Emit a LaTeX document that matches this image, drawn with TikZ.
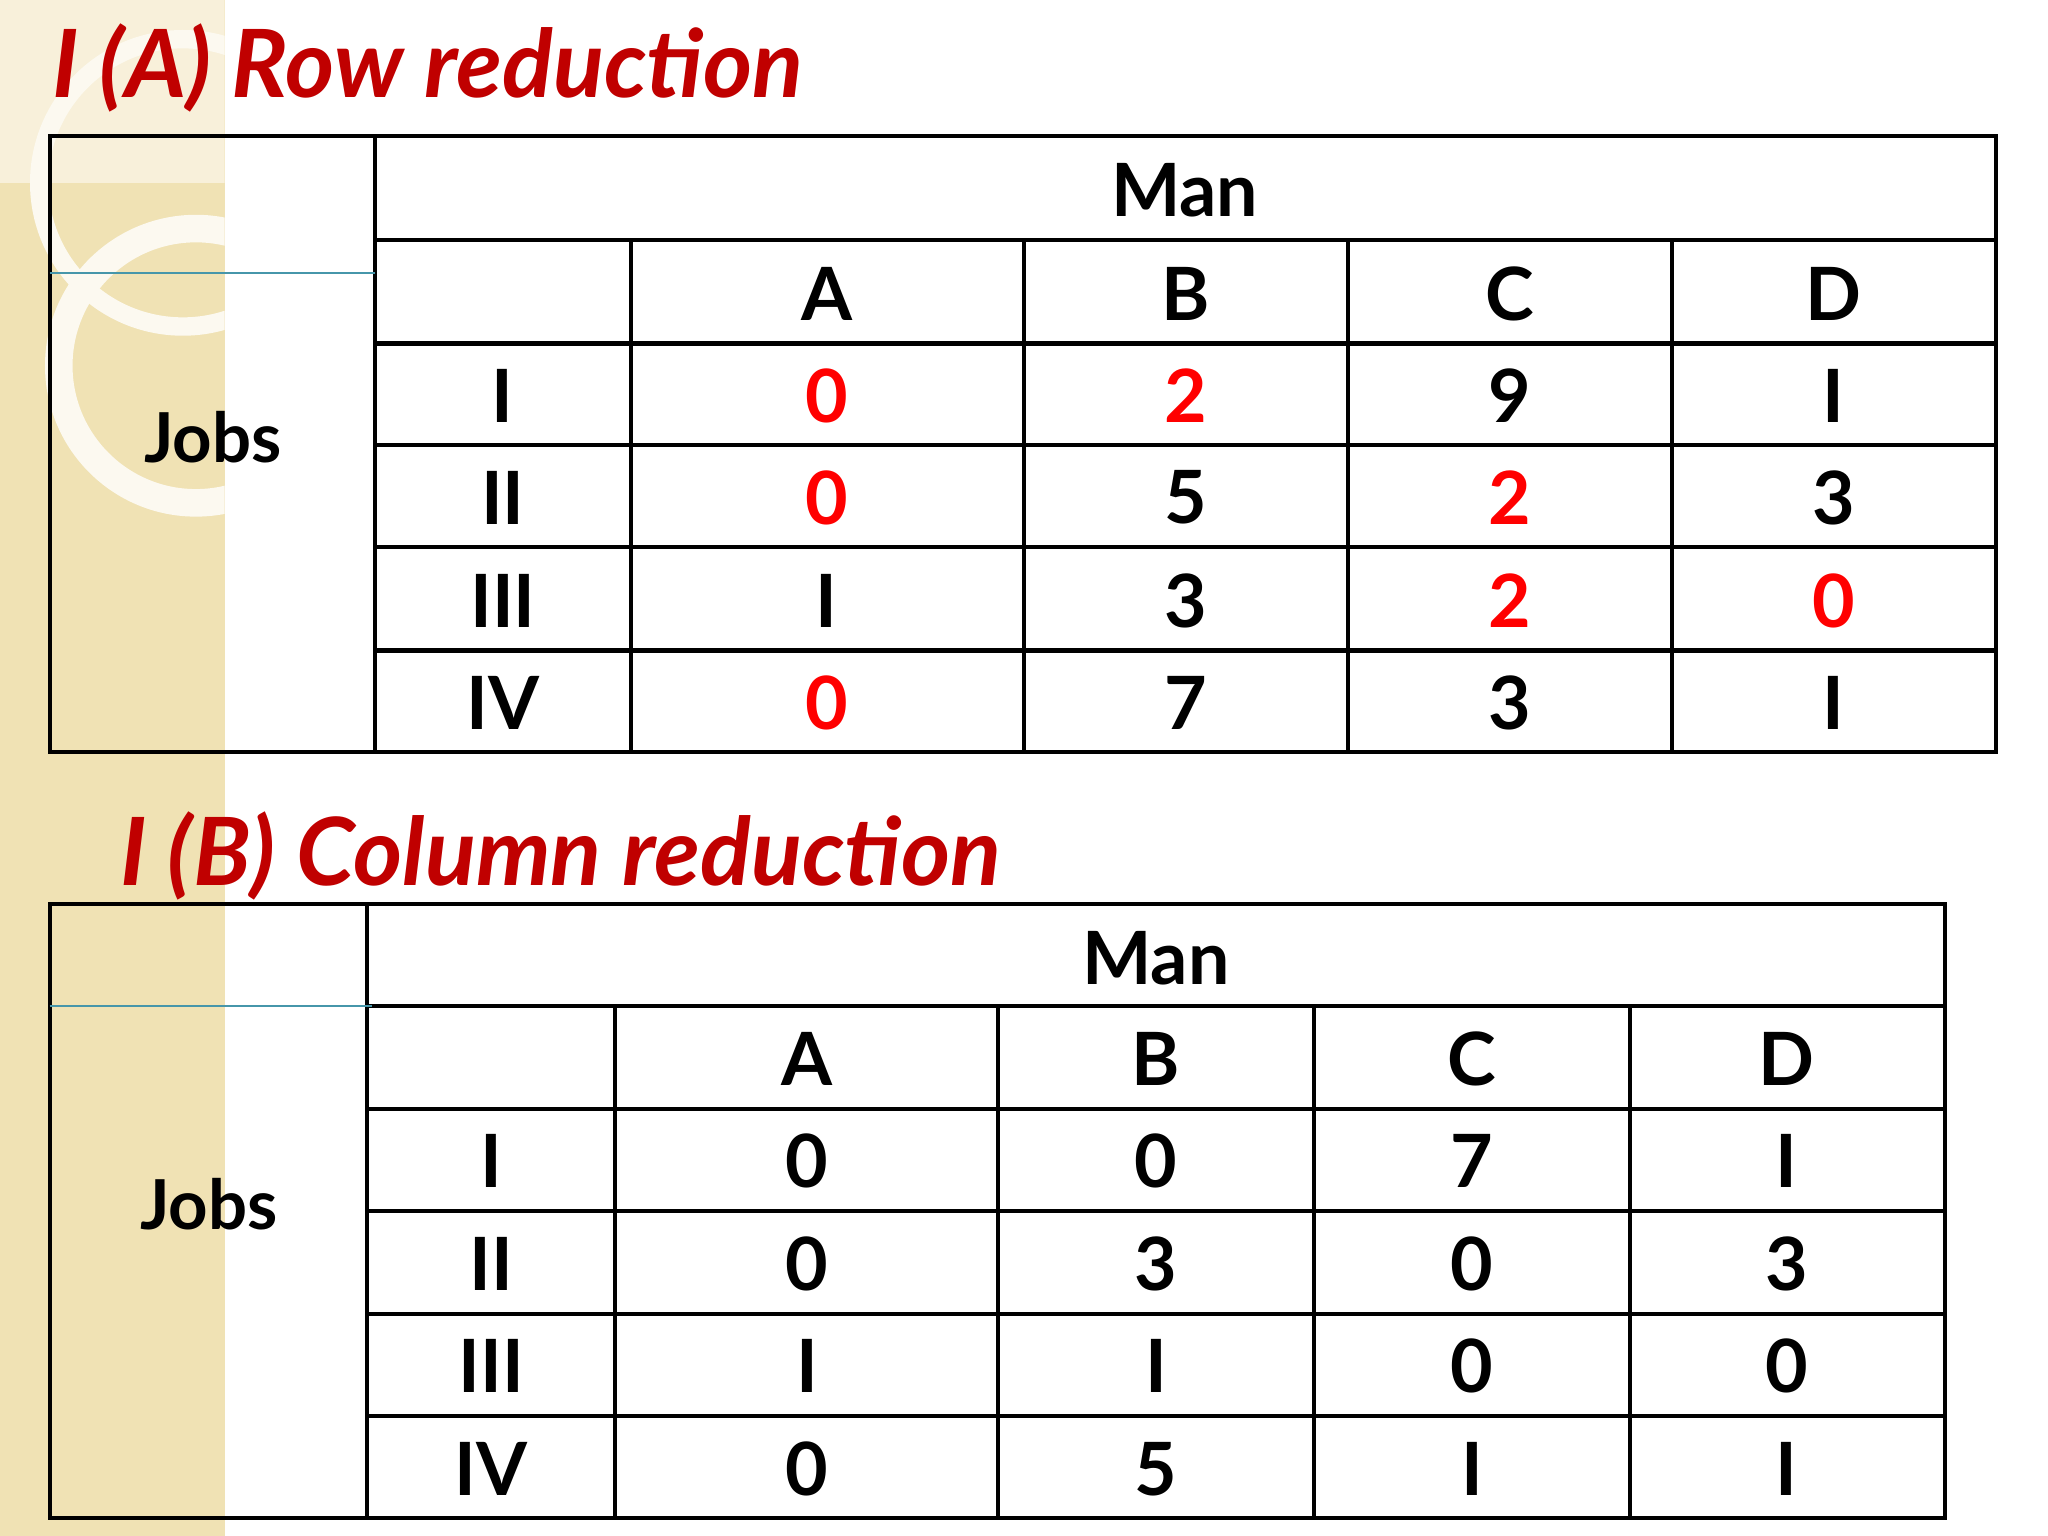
\documentclass[tikz,border=0pt]{standalone}
\usepackage{fontspec}
\setmainfont{Lato}
\begin{document}
\begin{tikzpicture}[x=0.01cm,y=-0.01cm,
  cell/.style={font=\bfseries\fontsize{16}{18}\selectfont,anchor=center},
  red0/.style={cell,text=red},
  ttl/.style={font=\bfseries\itshape\fontsize{20.5}{24}\selectfont,text=titlered,anchor=west},
  grid/.style={line width=0.9pt,black},
  teal/.style={line width=0.5pt,color=tealline}]
\definecolor{titlered}{RGB}{192,0,0}
\definecolor{beige}{RGB}{240,226,180}
\definecolor{tealline}{RGB}{70,150,170}
\useasboundingbox (0,0) rectangle (1568,1176);
\fill[white] (0,0) rectangle (1568,1176);
\fill[beige] (0,0) rectangle (172,1176);
\begin{scope}
\clip (0,0) rectangle (172,1176);
\fill[beige!50] (0,0) rectangle (172,140);
\draw[white!80!beige,line width=6pt] (150,280) circle (105);
\draw[white!80!beige,line width=4pt] (140,140) circle (110);
\end{scope}
% Titles
\node[ttl] (ta) at (28,52) {I (A) Row reduction};
\node[ttl] (tb) at (80,655) {I (B) Column reduction};
% Table A
\draw[grid] (38,104) rectangle (1528,576);
\draw[grid] (287,104) -- (287,576);
\draw[grid] (287,184) -- (1528,184);
\foreach \y in {263,341,419,498} \draw[grid] (287,\y) -- (1528,\y);
\foreach \x in {483,784,1032,1280} \draw[grid] (\x,184) -- (\x,576);
\draw[teal] (38,209) -- (287,209);
\node[cell] (mana) at (907,146) {Man};
\node[cell,font=\bfseries\fontsize{15}{18}\selectfont] (joba) at (163,335) {Jobs};
\foreach \t[count=\i] in {A,B,C,D}{
  \pgfmathsetmacro\cx{{0,633,908,1156,1404}[\i]}
  \node[cell] at (\cx,225) {\t};}
\foreach \t[count=\i] in {I,II,III,IV}{
  \pgfmathsetmacro\cy{{0,303,381,460,538}[\i]}
  \node[cell] at (385,\cy) {\t};}
\node[red0] at (633,303) {0}; \node[red0] at (908,303) {2}; \node[cell] at (1156,303) {9}; \node[cell] at (1404,303) {I};
\node[red0] at (633,381) {0}; \node[cell] at (908,381) {5}; \node[red0] at (1156,381) {2}; \node[cell] at (1404,381) {3};
\node[cell] at (633,460) {I}; \node[cell] at (908,460) {3}; \node[red0] at (1156,460) {2}; \node[red0] at (1404,460) {0};
\node[red0] at (633,538) {0}; \node[cell] at (908,538) {7}; \node[cell] at (1156,538) {3}; \node[cell] at (1404,538) {I};
% Table B
\draw[grid] (38,692) rectangle (1489,1162);
\draw[grid] (281,692) -- (281,1162);
\draw[grid] (281,770) -- (1489,770);
\foreach \y in {849,927,1006,1084} \draw[grid] (281,\y) -- (1489,\y);
\foreach \x in {471,764,1006,1248} \draw[grid] (\x,770) -- (\x,1162);
\draw[teal] (38,770) -- (285,770);
\node[cell] (manb) at (885,734) {Man};
\node[cell,font=\bfseries\fontsize{15}{18}\selectfont] (jobb) at (160,922) {Jobs};
\foreach \t[count=\i] in {A,B,C,D}{
  \pgfmathsetmacro\cx{{0,618,885,1127,1368}[\i]}
  \node[cell] at (\cx,811) {\t};}
\foreach \t[count=\i] in {I,II,III,IV}{
  \pgfmathsetmacro\cy{{0,889,968,1046,1125}[\i]}
  \node[cell] at (376,\cy) {\t};}
\foreach \a/\b/\c/\d [count=\i] in {0/0/7/I,0/3/0/3,I/I/0/0,0/5/I/I}{
  \pgfmathsetmacro\cy{{0,889,968,1046,1125}[\i]}
  \node[cell] at (618,\cy) {\a}; \node[cell] at (885,\cy) {\b};
  \node[cell] at (1127,\cy) {\c}; \node[cell] at (1368,\cy) {\d};}
\end{tikzpicture}
\end{document}
